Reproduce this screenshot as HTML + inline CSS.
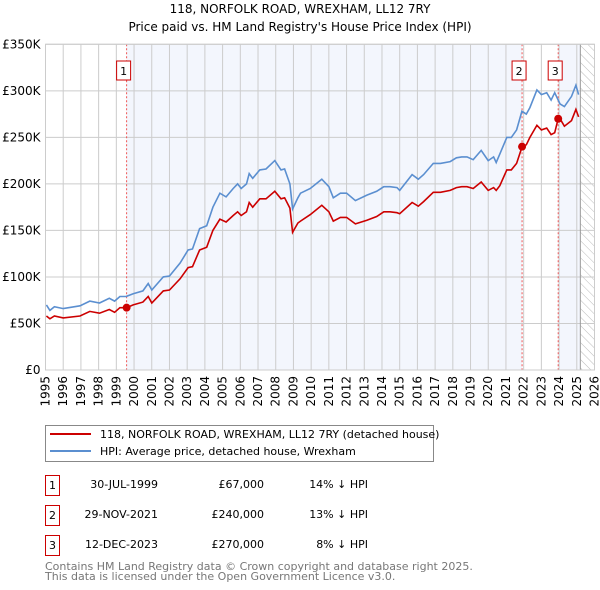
<!DOCTYPE html>
<html><head><meta charset="utf-8"><style>
body{margin:0;background:#fff;font-family:"DejaVu Sans","Liberation Sans",sans-serif;}
svg{display:block}
</style></head><body>
<svg id="c" width="600" height="590" xmlns="http://www.w3.org/2000/svg" font-family="DejaVu Sans, Liberation Sans, sans-serif">
<text x="300" y="13" text-anchor="middle" font-size="12">118, NORFOLK ROAD, WREXHAM, LL12 7RY</text>
<text x="300" y="31" text-anchor="middle" font-size="12">Price paid vs. HM Land Registry's House Price Index (HPI)</text>
<defs><pattern id="hatch" width="6" height="6" patternUnits="userSpaceOnUse" patternTransform="rotate(-45)"><line x1="0" y1="0" x2="0" y2="6" stroke="#bbb" stroke-width="1"/></pattern></defs>
<g id="plot"></g>
<g>
<rect x="45.5" y="425.5" width="388" height="36" fill="#fff" stroke="#888"/>
<line x1="50" y1="434" x2="91" y2="434" stroke="#cc0000" stroke-width="2"/>
<text x="100" y="438" font-size="11">118, NORFOLK ROAD, WREXHAM, LL12 7RY (detached house)</text>
<line x1="50" y1="451" x2="91" y2="451" stroke="#5b8fd0" stroke-width="2"/>
<text x="100" y="455" font-size="11">HPI: Average price, detached house, Wrexham</text>
</g>
<g font-size="11">
<rect x="45.5" y="475.5" width="14" height="20" fill="#fff" stroke="#cc0000"/><text x="52.5" y="489" text-anchor="middle">1</text>
<text x="158" y="488" text-anchor="end">30-JUL-1999</text><text x="264" y="488" text-anchor="end">£67,000</text><text x="368" y="488" text-anchor="end">14% ↓ HPI</text>
<rect x="45.5" y="505.5" width="14" height="20" fill="#fff" stroke="#cc0000"/><text x="52.5" y="519" text-anchor="middle">2</text>
<text x="158" y="518" text-anchor="end">29-NOV-2021</text><text x="264" y="518" text-anchor="end">£240,000</text><text x="368" y="518" text-anchor="end">13% ↓ HPI</text>
<rect x="45.5" y="535.5" width="14" height="20" fill="#fff" stroke="#cc0000"/><text x="52.5" y="549" text-anchor="middle">3</text>
<text x="158" y="548" text-anchor="end">12-DEC-2023</text><text x="264" y="548" text-anchor="end">£270,000</text><text x="368" y="548" text-anchor="end">8% ↓ HPI</text>
</g>
<text x="45" y="570" font-size="11" fill="#777">Contains HM Land Registry data © Crown copyright and database right 2025.</text>
<text x="45" y="580" font-size="11" fill="#777">This data is licensed under the Open Government Licence v3.0.</text>
</svg>
<script>
const hpiYears=[1995.05,1995.25,1995.5,1996,1996.95,1997.5,1998.05,1998.6,1998.9,1999.2,1999.55,1999.95,2000.5,2000.8,2001.0,2001.65,2002.0,2002.6,2003.05,2003.3,2003.7,2004.1,2004.45,2004.85,2005.2,2005.6,2005.85,2006.05,2006.35,2006.5,2006.7,2007.1,2007.45,2007.95,2008.3,2008.5,2008.8,2008.95,2009.25,2009.4,2009.95,2010.6,2011.0,2011.25,2011.65,2012.0,2012.5,2013.15,2013.7,2014.1,2014.45,2014.85,2015.0,2015.7,2016.05,2016.35,2016.9,2017.3,2017.85,2018.2,2018.5,2018.8,2019.15,2019.6,2020.0,2020.3,2020.45,2020.65,2021.05,2021.3,2021.6,2021.9,2022.15,2022.35,2022.75,2023.0,2023.3,2023.55,2023.75,2024.05,2024.3,2024.7,2024.95,2025.1];
const hpiValues=[70,64,68,66,69,74,72,77,74,79,79,82,85,93,86,100,101,115,129,130,152,155,175,190,186,195,200,195,200,211,206,215,216,225,215,216,200,173,185,190,195,205,197,185,190,190,182,188,192,197,197,196,193,210,205,210,222,222,224,228,229,229,226,236,225,229,223,232,250,250,258,278,275,282,301,296,298,290,298,286,283,294,306,296];
const redYears=[1995.05,1995.25,1995.5,1996,1996.95,1997.5,1998.05,1998.6,1998.9,1999.2,1999.58,1999.95,2000.5,2000.8,2001.0,2001.65,2002.0,2002.6,2003.05,2003.3,2003.7,2004.1,2004.45,2004.85,2005.2,2005.6,2005.85,2006.05,2006.35,2006.5,2006.7,2007.1,2007.45,2007.95,2008.3,2008.5,2008.8,2008.95,2009.25,2009.4,2009.95,2010.6,2011.0,2011.25,2011.65,2012.0,2012.5,2013.15,2013.7,2014.1,2014.45,2014.85,2015.0,2015.7,2016.05,2016.35,2016.9,2017.3,2017.85,2018.2,2018.5,2018.8,2019.15,2019.6,2020.0,2020.3,2020.45,2020.65,2021.05,2021.3,2021.6,2021.91,2022.15,2022.35,2022.75,2023.0,2023.3,2023.55,2023.75,2023.95,2024.05,2024.3,2024.7,2024.95,2025.1];
const redValues=[58,55,58,56,58,63,61,65,62,67,67,70,73,79,72,85,86,98,110,111,129,132,150,162,159,166,170,166,170,180,175,184,184,192,184,185,174,148,158,160,167,177,170,160,164,164,157,161,165,170,170,169,168,180,176,181,191,191,193,196,197,197,195,202,193,196,193,198,215,215,222,240,242,250,263,258,260,253,255,270,270,262,268,280,272];
const saleYears=[1999.58,2021.91,2023.95];
const saleValues=[67,240,270];
const saleLabels=["1","2","3"];
const yTicks=[0,50,100,150,200,250,300,350];
const yTickLabels=["£0","£50K","£100K","£150K","£200K","£250K","£300K","£350K"];
const xTicks=[1995,1996,1997,1998,1999,2000,2001,2002,2003,2004,2005,2006,2007,2008,2009,2010,2011,2012,2013,2014,2015,2016,2017,2018,2019,2020,2021,2022,2023,2024,2025,2026];

const L=45.5,R=594.5,T=44.3,B=370,X0=1995,X1=2026,YMAX=350,DATA_END=2025.2;
const xs=y=>L+(y-X0)/(X1-X0)*(R-L);
const ys=v=>B-v/YMAX*(B-T);
const NS="http://www.w3.org/2000/svg";
const g=document.getElementById('plot');
function mk(tag,attrs,parent){const e=document.createElementNS(NS,tag);for(const k in attrs)e.setAttribute(k,attrs[k]);(parent||g).appendChild(e);return e;}
// shading
let r;
r=mk('rect',{x:xs(saleYears[0]),y:T,width:xs(saleYears[1])-xs(saleYears[0]),height:B-T,fill:'#eef2fc',opacity:0.7});


r=mk('rect',{x:xs(saleYears[2]),y:T,width:xs(DATA_END)-xs(saleYears[2]),height:B-T,fill:'#eef2fc',opacity:0.7});


r=mk('rect',{x:xs(DATA_END),y:T,width:R-xs(DATA_END),height:B-T,fill:'url(#hatch)'});


// grid
yTicks.forEach((v,i)=>{
  const l=mk('line',{x1:L,x2:R,y1:ys(v),y2:ys(v),stroke:'#ccc','stroke-width':1});
  
  
  const t=mk('text',{x:L-5,y:ys(v)+4,'text-anchor':'end','font-size':12});
  t.textContent=yTickLabels[i];
  
  
});
xTicks.forEach(yr=>{
  const l=mk('line',{x1:xs(yr),x2:xs(yr),y1:T,y2:B,stroke:'#ccc','stroke-width':1});
  
  
  const t=mk('text',{x:0,y:0,'font-size':12,'text-anchor':'end',transform:`translate(${xs(yr)+4},${B+6}) rotate(-90)`});
  t.textContent=yr;
  
  
});
const vl=mk('line',{x1:xs(DATA_END),x2:xs(DATA_END),y1:T,y2:B,stroke:'#999','stroke-width':1});


// sale markers lines
saleYears.forEach((yr,i)=>{
  const l=mk('line',{x1:xs(yr),x2:xs(yr),y1:T,y2:B,stroke:'#e55','stroke-width':1,'stroke-dasharray':'2,2'});
  
  
  const bx=mk('rect',{x:xs(yr)-10,y:61,width:14,height:19,fill:'#fff',stroke:'#cc0000'});
  
  
  const t=mk('text',{x:xs(yr)-3,y:75,'text-anchor':'middle','font-size':11});
  t.textContent=saleLabels[i];
  
  
});
const path=(xsArr,vs)=>xsArr.map((y,i)=>(i?'L':'M')+xs(y).toFixed(1)+','+ys(vs[i]).toFixed(1)).join('');
const hp=mk('path',{d:path(hpiYears,hpiValues),fill:'none',stroke:'#5b8fd0','stroke-width':1.6});


const rp=mk('path',{d:path(redYears,redValues),fill:'none',stroke:'#cc0000','stroke-width':1.6});


saleYears.forEach((yr,i)=>{
  const c=mk('circle',{cx:xs(yr),cy:ys(saleValues[i]),r:4,fill:'#cc0000'});
  
  
});
const fr=mk('rect',{x:L,y:T,width:R-L,height:B-T,fill:'none',stroke:'#ccc'});


</script>
</body></html>
